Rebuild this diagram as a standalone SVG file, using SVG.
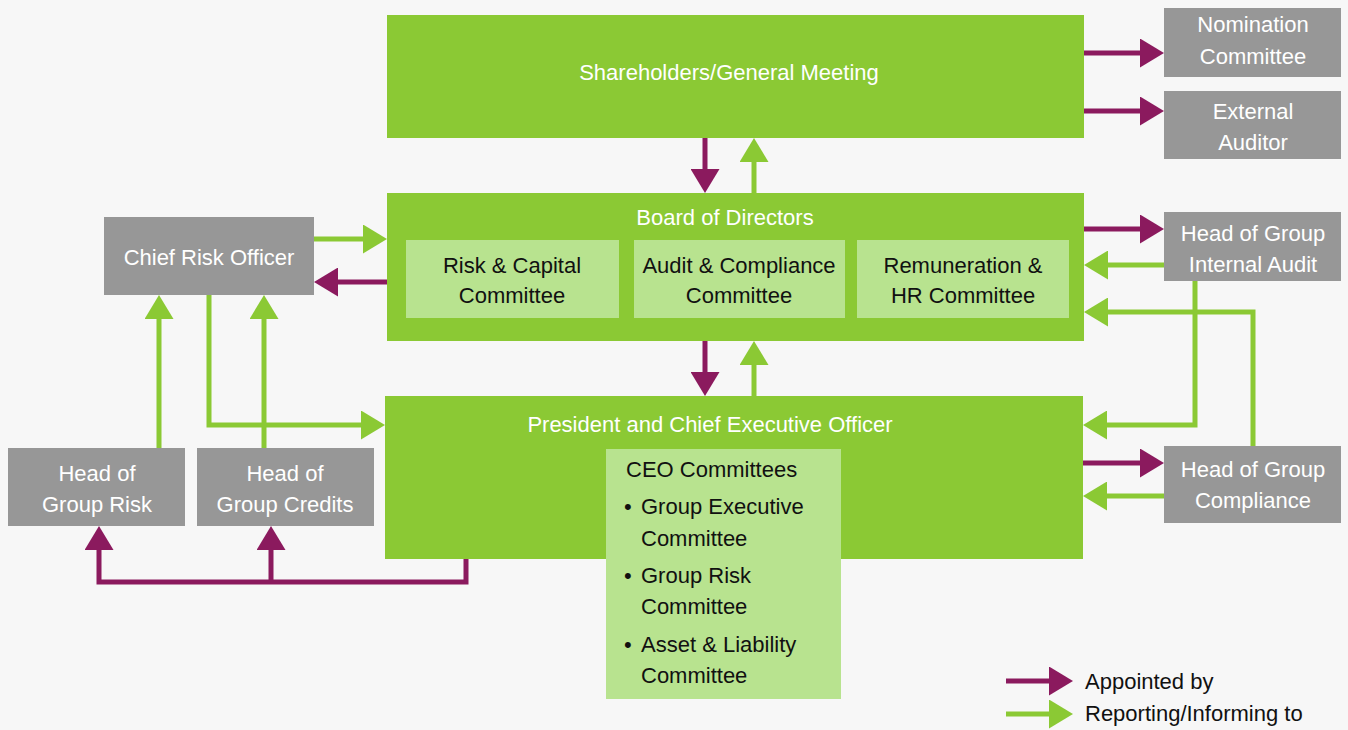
<svg xmlns="http://www.w3.org/2000/svg" width="1348" height="730" viewBox="0 0 1348 730">
  <defs>
    <style>
      text { font-family: "Liberation Sans", Arial, sans-serif; font-size: 22px; }
      .main { fill: #8BC934; }
      .sub { fill: #B8E38F; }
      .grey { fill: #979797; }
      .w { fill: #FFFFFF; text-anchor: middle; }
      .k { fill: #111111; text-anchor: middle; }
      .kl { fill: #111111; }
      .ap { fill: none; stroke: #8B1A5E; stroke-width: 5; marker-end: url(#headP); }
      .rp { fill: none; stroke: #8BC934; stroke-width: 5; marker-end: url(#headG); }
    </style>
    <marker id="headP" viewBox="0 0 24 29" refX="0" refY="14.5" markerWidth="24" markerHeight="29" markerUnits="userSpaceOnUse" orient="auto">
      <path d="M0,0 L24,14.5 L0,29 Z" fill="#8B1A5E"/>
    </marker>
    <marker id="headG" viewBox="0 0 24 29" refX="0" refY="14.5" markerWidth="24" markerHeight="29" markerUnits="userSpaceOnUse" orient="auto">
      <path d="M0,0 L24,14.5 L0,29 Z" fill="#8BC934"/>
    </marker>
  </defs>

  <rect width="1348" height="730" fill="#F7F7F7"/>

  <!-- connectors -->
  <g id="connectors">
    <!-- appointed by -->
    <path class="ap" d="M1084,53 H1140"/>
    <path class="ap" d="M1084,111 H1140"/>
    <path class="ap" d="M705,138 V169"/>
    <path class="ap" d="M1084,229 H1140"/>
    <path class="ap" d="M705,341 V372"/>
    <path class="ap" d="M387,282 H338"/>
    <path class="ap" d="M1081,463 H1140"/>
    <path class="ap" d="M466,558 V582 H99 V550"/>
    <path class="ap" d="M271,582 V550"/>
    <!-- reporting / informing to -->
    <path class="rp" d="M754,193 V162"/>
    <path class="rp" d="M754,396 V365"/>
    <path class="rp" d="M1164,265 H1108"/>
    <path class="rp" d="M1195,281 V425 H1107"/>
    <path class="rp" d="M1253,446 V312 H1108"/>
    <path class="rp" d="M1164,496 H1107"/>
    <path class="rp" d="M314,239 H363"/>
    <path class="rp" d="M209,295 V425 H361"/>
    <path class="rp" d="M159,448 V319"/>
    <path class="rp" d="M264,448 V319"/>
  </g>

  <!-- top level -->
  <g id="shareholders">
    <rect class="main" x="387" y="15" width="697" height="123"/>
    <text class="w" x="729" y="80">Shareholders/General Meeting</text>
  </g>
  <g id="nomination-committee">
    <rect class="grey" x="1164" y="8" width="177" height="69"/>
    <text class="w" x="1253" y="32">Nomination</text>
    <text class="w" x="1253" y="64">Committee</text>
  </g>
  <g id="external-auditor">
    <rect class="grey" x="1164" y="91" width="177" height="68"/>
    <text class="w" x="1253" y="119">External</text>
    <text class="w" x="1253" y="150">Auditor</text>
  </g>

  <!-- board -->
  <g id="board">
    <rect class="main" x="387" y="193" width="697" height="148"/>
    <text class="w" x="725" y="225">Board of Directors</text>
  </g>
  <g id="risk-capital-committee">
    <rect class="sub" x="406" y="240" width="213" height="78"/>
    <text class="k" x="512" y="273">Risk &amp; Capital</text>
    <text class="k" x="512" y="303">Committee</text>
  </g>
  <g id="audit-compliance-committee">
    <rect class="sub" x="634" y="240" width="211" height="78"/>
    <text class="k" x="739" y="273">Audit &amp; Compliance</text>
    <text class="k" x="739" y="303">Committee</text>
  </g>
  <g id="remuneration-hr-committee">
    <rect class="sub" x="857" y="240" width="212" height="78"/>
    <text class="k" x="963" y="273">Remuneration &amp;</text>
    <text class="k" x="963" y="303">HR Committee</text>
  </g>

  <g id="head-internal-audit">
    <rect class="grey" x="1164" y="212" width="177" height="69"/>
    <text class="w" x="1253" y="241">Head of Group</text>
    <text class="w" x="1253" y="272">Internal Audit</text>
  </g>
  <g id="chief-risk-officer">
    <rect class="grey" x="104" y="217" width="210" height="78"/>
    <text class="w" x="209" y="265">Chief Risk Officer</text>
  </g>

  <!-- executive level -->
  <g id="ceo">
    <rect class="main" x="385" y="396" width="698" height="163"/>
    <text class="w" x="710" y="432">President and Chief Executive Officer</text>
  </g>
  <g id="ceo-committees">
    <rect class="sub" x="606" y="449" width="235" height="250"/>
    <text class="kl" x="626" y="477">CEO Committees</text>
    <text class="kl" x="624" y="514">•</text>
    <text class="kl" x="641" y="514">Group Executive</text>
    <text class="kl" x="641" y="546">Committee</text>
    <text class="kl" x="624" y="583">•</text>
    <text class="kl" x="641" y="583">Group Risk</text>
    <text class="kl" x="641" y="614">Committee</text>
    <text class="kl" x="624" y="652">•</text>
    <text class="kl" x="641" y="652">Asset &amp; Liability</text>
    <text class="kl" x="641" y="683">Committee</text>
  </g>
  <g id="head-compliance">
    <rect class="grey" x="1164" y="446" width="177" height="77"/>
    <text class="w" x="1253" y="477">Head of Group</text>
    <text class="w" x="1253" y="508">Compliance</text>
  </g>
  <g id="head-group-risk">
    <rect class="grey" x="8" y="448" width="177" height="78"/>
    <text class="w" x="97" y="481">Head of</text>
    <text class="w" x="97" y="512">Group Risk</text>
  </g>
  <g id="head-group-credits">
    <rect class="grey" x="197" y="448" width="177" height="78"/>
    <text class="w" x="285" y="481">Head of</text>
    <text class="w" x="285" y="512">Group Credits</text>
  </g>

  <!-- legend -->
  <g id="legend">
    <path class="ap" d="M1006,681 H1049"/>
    <path class="rp" d="M1006,714 H1049"/>
    <text class="kl" x="1085" y="689">Appointed by</text>
    <text class="kl" x="1085" y="721">Reporting/Informing to</text>
  </g>
</svg>
